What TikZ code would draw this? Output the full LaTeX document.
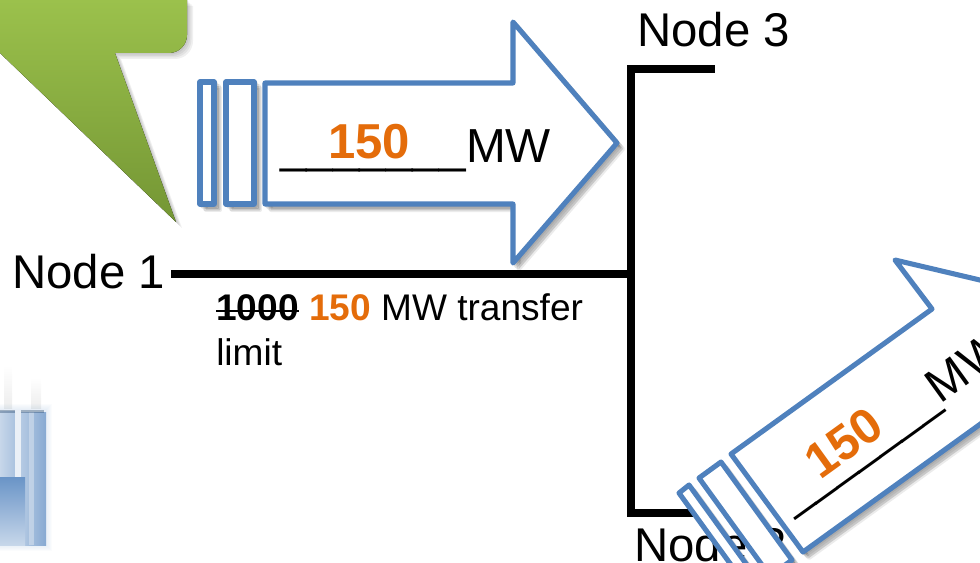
\documentclass[tikz,border=0pt]{standalone}
\usepackage{fontspec}
\setmainfont{Liberation Sans}
\definecolor{arrowblue}{HTML}{4F81BD}
\definecolor{numorange}{HTML}{E46C0A}
\newcommand\softshadow[2][]{\foreach \s in {1.5,3,4.5,6}{\path[fill=black,draw=black,line width=3pt,line join=round,opacity=.08,shift={(\s,\s)},#1] #2;}}
\tikzset{
  x=0.75pt,y=-0.75pt,
  bus/.style={line width=5.5pt,line cap=rect,line join=miter},
  flow/.style={draw=arrowblue,fill=white,line width=3.8pt,line join=round},
  big/.style={font=\fontsize{35.5}{40}\selectfont,inner sep=0pt},
  mw/.style={font=\fontsize{35.8}{40}\selectfont,inner sep=0pt},
  num/.style={font=\fontsize{36.8}{40}\selectfont\bfseries,text=numorange,inner sep=0pt},
  small/.style={font=\fontsize{27.8}{34}\selectfont,inner sep=0pt},
}
\begin{document}
\begin{tikzpicture}
\useasboundingbox (0,0) rectangle (980,563);
\clip (0,0) rectangle (980,563);

% power plant (blurred picture in the reference)
\fill[bottom color=gray!14,top color=white] (4,365) rectangle (12,408);
\fill[bottom color=gray!14,top color=white] (31,378) rectangle (41,408);
\foreach \s in {1,2,3,4,5,6}{\fill[arrowblue!35,opacity=.07] (0,410-\s) rectangle (46+\s,545+\s);}
\fill[left color=arrowblue!32,right color=arrowblue!48] (0,411) rectangle (15,478);
\fill[arrowblue!12] (15,411) rectangle (21,478);
\fill[left color=arrowblue!42,right color=arrowblue!68] (21,412) rectangle (46,545);
\fill[white!75!arrowblue,opacity=.6] (29,412) rectangle (34,545);
\fill[arrowblue!60!black,opacity=.4] (0,410) rectangle (15,413);
\fill[arrowblue!60!black,opacity=.4] (21,410) rectangle (44,413);
\fill[top color=arrowblue!85,bottom color=arrowblue!32] (0,477) rectangle (25,545);

% green callout
\softshadow[draw=none,opacity=.06]{(0,53) -- (176,222) -- (115,53) -- (169,53) arc[start angle=90,end angle=0,radius=18] -- (187,0) -- (0,0) -- cycle}
\fill[top color={rgb,255:red,155;green,193;blue,76},bottom color={rgb,255:red,116;green,150;blue,52}]
  (0,53) -- (176,222) -- (115,53) -- (169,53) arc[start angle=90,end angle=0,radius=18] -- (187,0) -- (0,0) -- cycle;

% buses
\coordinate (n1end) at (175,274);
\coordinate (junction) at (631,274);
\coordinate (top) at (631,69);
\coordinate (bottom) at (631,513);
\coordinate (n3end) at (711,69);
\coordinate (n2end) at (705,513);
\draw[bus] (n1end) -- (junction);
\draw[bus] (n3end) -- (top) -- (bottom) -- (n2end);

% labels
\node[big,anchor=base west] (node1) at (12,288) {Node 1};
\node[big,anchor=base west] (node3) at (637,47) {Node 3};
\node[big,anchor=base west] (node2) at (634,561) {Node 2};
\node[small,anchor=base west] (limit) at (216,320) {\textbf{1000} \textbf{\textcolor{numorange}{150}} MW transfer};
\node[small,anchor=base west] (limit2) at (216,365) {limit};
\draw[line width=1.6pt] (216,311) -- (299,311);

% horizontal flow arrow
\softshadow{(200,82) rectangle (214,204)}
\softshadow{(226,82) rectangle (254,204)}
\softshadow{(265,83) -- (513,83) -- (513,22) -- (617,143) -- (513,263) -- (513,204) -- (265,204) -- cycle}
\path[flow] (200,82) rectangle (214,204);
\path[flow] (226,82) rectangle (254,204);
\path[flow] (265,83) -- (513,83) -- (513,22) -- (617,143) -- (513,263) -- (513,204) -- (265,204) -- cycle;
\node[mw,anchor=base west] (mwa) at (280,162) {\_\_\_\_\_\_\_MW};
\node[num] (numa) at (369,142) {150};

% diagonal flow arrow
\softshadow{(679,493) -- (689,485) -- (760,583) -- (750,591) -- cycle}
\softshadow{(699,478) -- (721,462) -- (792,560) -- (770,576) -- cycle}
\softshadow{(731,454) -- (932,309) -- (895,260) -- (1052,297) -- (1041,456) -- (1004,407) -- (803,552) -- cycle}
\path[flow] (679,493) -- (689,485) -- (760,583) -- (750,591) -- cycle;
\path[flow] (699,478) -- (721,462) -- (792,560) -- (770,576) -- cycle;
\path[flow] (731,454) -- (932,309) -- (895,260) -- (1052,297) -- (1041,456) -- (1004,407) -- (803,552) -- cycle;
\node[mw,anchor=base west,rotate=35.8] (mwb) at (790,513) {\_\_\_\_\_\_\_MW};
\node[num,rotate=35.8] (numb) at (844,443) {150};
\end{tikzpicture}
\end{document}
